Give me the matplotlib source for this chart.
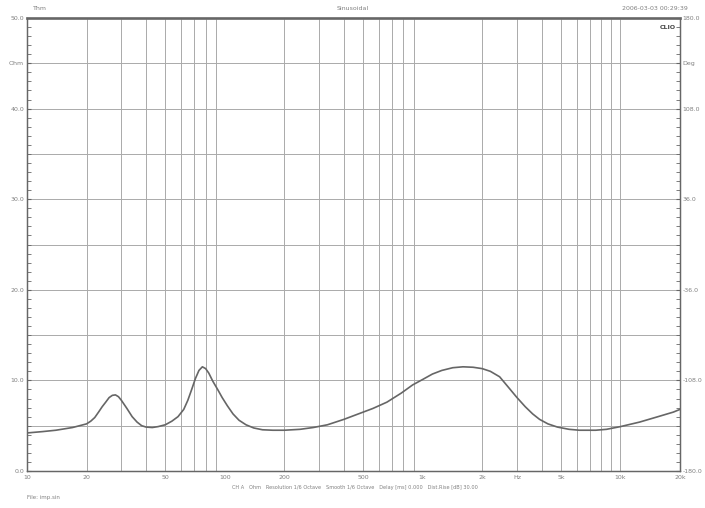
import numpy as np
import matplotlib
matplotlib.use('Agg')
import matplotlib.pyplot as plt
from matplotlib.ticker import FixedLocator, NullFormatter

# impedance curve (Hz, Ohm)
freq = [10, 12, 14, 17, 20, 21, 22, 23, 24, 25, 26, 27, 28, 29, 30, 32, 34, 36,
        38, 40, 43, 46, 50, 54, 58, 62, 65, 68, 71, 74, 77, 80, 83, 87, 92, 97,
        103, 110, 118, 128, 140, 155, 175, 200, 240, 280, 330, 400, 460, 560,
        660, 780, 890, 1000, 1120, 1250, 1420, 1600, 1800, 2000, 2200, 2450,
        2700, 3000, 3300, 3600, 3900, 4300, 4800, 5500, 6200, 7500, 8500, 10000,
        12500, 15500, 18500, 20000]
ohm = [4.2, 4.35, 4.5, 4.8, 5.2, 5.5, 5.9, 6.5, 7.1, 7.6, 8.1, 8.35, 8.4, 8.2,
       7.8, 6.9, 6.0, 5.4, 5.0, 4.85, 4.8, 4.9, 5.1, 5.5, 6.0, 6.8, 7.8, 9.0,
       10.2, 11.1, 11.5, 11.3, 10.8, 9.9, 9.0, 8.1, 7.2, 6.3, 5.6, 5.1, 4.75,
       4.55, 4.5, 4.5, 4.6, 4.8, 5.1, 5.7, 6.2, 6.9, 7.6, 8.6, 9.5, 10.1, 10.7,
       11.1, 11.4, 11.5, 11.45, 11.3, 11.0, 10.4, 9.3, 8.1, 7.1, 6.3, 5.7, 5.2,
       4.85, 4.6, 4.5, 4.5, 4.6, 4.9, 5.4, 6.0, 6.5, 6.8]

x_ticks = [10, 20, 50, 100, 200, 500, 1000, 2000, 3000, 5000, 10000, 20000]
x_labels = ['10', '20', '50', '100', '200', '500', '1k', '2k', 'Hz', '5k', '10k', '20k']
y_ticks = [0, 10, 20, 30, 40, 45, 50]
y_labels = ['0.0', '10.0', '20.0', '30.0', '40.0', 'Ohm', '50.0']
deg_labels = ['-180.0', '-108.0', '-36.0', '36.0', '108.0', 'Deg', '180.0']

grid_x = [f * m for m in [10, 100, 1000] for f in range(2, 10)] + [10000, 20000]

txt = '#808080'
fig = plt.figure(figsize=(7.05, 5.08), dpi=100)
ax = fig.add_axes([27 / 705, 1 - 471 / 508, 653 / 705, 453 / 508])

for g in grid_x:
    ax.axvline(g, color='#aaaaaa', lw=0.7, zorder=1)
for h in range(5, 50, 5):
    ax.axhline(h, color='#aaaaaa', lw=0.7, zorder=1)

ax.plot(freq, ohm, color='#666666', lw=1.2, zorder=3)

ax.set_xscale('log')
ax.set_xlim(10, 20000)
ax.set_ylim(0, 50)
ax.xaxis.set_major_locator(FixedLocator(x_ticks))
ax.set_xticklabels(x_labels)
ax.xaxis.set_minor_formatter(NullFormatter())
ax.xaxis.set_minor_locator(FixedLocator([]))
ax.set_yticks(y_ticks)
ax.set_yticklabels(y_labels)
ax.yaxis.set_minor_locator(FixedLocator(range(0, 51)))
ax.tick_params(axis='both', which='both', labelsize=4.5, colors=txt, length=0, pad=3)
ax.tick_params(axis='y', which='both', length=3, direction='in', color='#666666', pad=2)

ax2 = ax.twinx()
ax2.set_ylim(0, 50)
ax2.set_yticks(y_ticks)
ax2.set_yticklabels(deg_labels)
ax2.yaxis.set_minor_locator(FixedLocator(range(0, 51)))
ax2.tick_params(axis='y', which='both', labelsize=4.5, colors=txt, length=3,
                direction='in', pad=2)
ax2.tick_params(axis='y', which='both', color='#666666')

for a in (ax, ax2):
    for s in a.spines.values():
        s.set_color('#666666')
        s.set_linewidth(0.9)
ax.spines['top'].set_linewidth(2.0)
ax.spines['top'].set_color('#777777')

fig.text(40 / 705, 1 - 9 / 508, 'Thm', fontsize=4.5, color=txt, ha='center', va='center')
fig.text(353 / 705, 1 - 9 / 508, 'Sinusoidal', fontsize=4.5, color=txt, ha='center', va='center')
fig.text(655 / 705, 1 - 9 / 508, '2006-03-03 00:29:39', fontsize=4.5, color=txt,
         ha='center', va='center')
ax.text(0.993, 0.985, 'CLIO', transform=ax.transAxes, fontsize=4.5, fontweight='bold',
        color='#444444', ha='right', va='top')
fig.text(355 / 705, 1 - 488 / 508,
         'CH A   Ohm   Resolution 1/6 Octave   Smooth 1/6 Octave   '
         'Delay [ms] 0.000   Dist.Rise [dB] 30.00',
         fontsize=3.6, color=txt, ha='center', va='center')
fig.text(27 / 705, 1 - 497 / 508, 'File: imp.sin', fontsize=4.0, color=txt,
         ha='left', va='center')

fig.savefig('out.png', dpi=100)
